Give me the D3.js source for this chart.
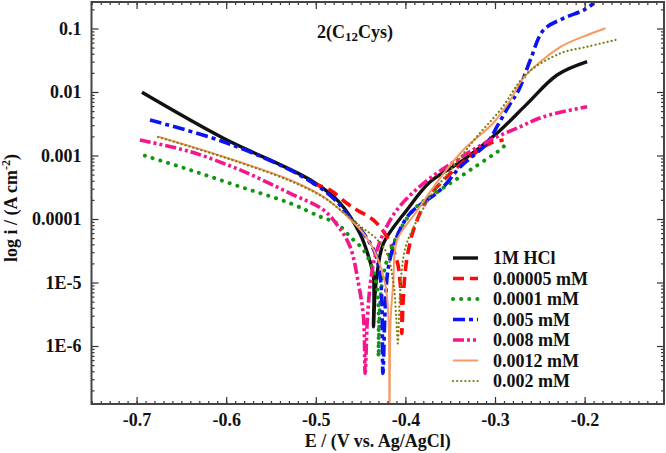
<!DOCTYPE html>
<html><head><meta charset="utf-8">
<script src="https://cdn.jsdelivr.net/npm/d3@7"></script>
<style>
html,body{margin:0;padding:0;background:#fff;}
svg text{font-family:"Liberation Serif","Times New Roman",serif;font-weight:bold;fill:#111;}
</style></head>
<body>
<svg id="c" width="666" height="453"></svg>
<script>
// ---- data: [E (V vs Ag/AgCl), i (A cm^-2)] ----
const hcl = [[-0.694,9.9e-3],[-0.603,1.87e-3],[-0.506,4.11e-4],[-0.4747,1.9e-4],[-0.4505,5.8e-5],[-0.4393,2.1e-5],[-0.4356,1.23e-5],[-0.4356,2.0e-6],
  [-0.434,6.3e-6],[-0.431,1.58e-5],[-0.4245,4.14e-5],[-0.3983,1.39e-4],[-0.3723,3.86e-4],[-0.3351,8.5e-4],[-0.2978,2.24e-3],[-0.2642,6.5e-3],[-0.2307,1.85e-2],[-0.1972,3.0e-2]];
const c00005 = [[-0.504,3.65e-4],[-0.484,2.86e-4],[-0.4654,1.77e-4],[-0.4542,1.39e-4],[-0.4356,9.6e-5],[-0.4207,5.26e-5],[-0.4095,2.26e-5],[-0.4058,9.7e-6],[-0.404,3.7e-6],[-0.404,1.58e-6],
  [-0.4025,5.0e-6],[-0.400,1.58e-5],[-0.396,3.55e-5],[-0.391,6.7e-5],[-0.376,1.99e-4],[-0.3536,4.63e-4],[-0.3276,9.6e-4],[-0.3053,1.56e-3],[-0.2904,1.75e-3]];
const c0001 = [[-0.6907,9.93e-4],[-0.6404,5.92e-4],[-0.5846,3.23e-4],[-0.5287,1.77e-4],[-0.4952,1.09e-4],[-0.4765,8.55e-5],[-0.4617,5.26e-5],[-0.4468,3.25e-5],[-0.4374,1.77e-5],[-0.4318,8.6e-6],[-0.430,3.7e-6],[-0.430,6.8e-7],
  [-0.4285,4.0e-6],[-0.426,1.0e-5],[-0.4226,1.77e-5],[-0.4133,4.14e-5],[-0.391,1.39e-4],[-0.3611,2.86e-4],[-0.3276,5.92e-4],[-0.2904,1.38e-3],[-0.2885,1.56e-3]];
const c005 = [[-0.685,3.62e-3],[-0.6032,1.65e-3],[-0.5287,5.92e-4],[-0.4915,2.86e-4],[-0.4747,1.77e-4],[-0.4692,1.39e-4],[-0.4468,5.96e-5],[-0.4337,2.88e-5],[-0.4282,1.23e-5],[-0.4263,5.3e-6],[-0.4251,3.7e-7],
  [-0.4225,4.0e-6],[-0.4189,1.77e-5],[-0.4095,5.26e-5],[-0.3946,1.23e-4],[-0.3611,2.86e-4],[-0.3388,6.6e-4],[-0.3089,1.56e-3],[-0.2978,2.84e-3],[-0.2829,6.6e-3],[-0.2736,1.07e-2],[-0.2606,3.19e-2],[-0.2457,9.5e-2],[-0.2233,0.145],[-0.201,0.195],[-0.1898,0.249]];
const c008 = [[-0.6963,1.75e-3],[-0.6404,1.15e-3],[-0.5846,5.92e-4],[-0.5287,2.54e-4],[-0.4915,1.39e-4],[-0.4747,7.57e-5],[-0.4617,3.66e-5],[-0.4524,9.7e-6],[-0.4468,2.9e-6],[-0.4449,3.7e-7],
  [-0.4425,2.5e-6],[-0.439,1.0e-5],[-0.434,2.5e-5],[-0.4245,5.96e-5],[-0.4095,1.39e-4],[-0.3798,3.65e-4],[-0.3425,8.5e-4],[-0.3053,1.75e-3],[-0.2717,2.84e-3],[-0.2457,4.08e-3],[-0.1972,5.87e-3]];
const c0012 = [[-0.6758,1.98e-3],[-0.6032,9.6e-4],[-0.5287,4.11e-4],[-0.4915,2.24e-4],[-0.4728,1.39e-4],[-0.4468,5.96e-5],[-0.4318,2.55e-5],[-0.4226,9.7e-6],[-0.4189,2.9e-6],[-0.4178,6.3e-8],
  [-0.4165,2.5e-6],[-0.4135,1.0e-5],[-0.4092,4.67e-5],[-0.3879,1.29e-4],[-0.3611,4.43e-4],[-0.3354,1.22e-3],[-0.3019,3.25e-3],[-0.2829,7.48e-3],[-0.2684,1.66e-2],[-0.227,5.12e-2],[-0.1969,7.9e-2],[-0.1767,0.1007]];
const c002 = [[-0.676,1.95e-3],[-0.603,9.4e-4],[-0.529,4.0e-4],[-0.4915,2.2e-4],[-0.4728,1.4e-4],[-0.45,7.6e-5],[-0.433,5.0e-5],[-0.4207,2.88e-5],[-0.4133,9.7e-6],[-0.4103,2.9e-6],[-0.4084,1.1e-6],
  [-0.4065,5.0e-6],[-0.404,1.58e-5],[-0.40,3.55e-5],[-0.39,7.9e-5],[-0.37,2.5e-4],[-0.345,7.1e-4],[-0.32,2.0e-3],[-0.2941,5.2e-3],[-0.2642,1.97e-2],[-0.227,4.06e-2],[-0.1972,5.16e-2],[-0.1655,6.6e-2]];

const seriesNames = ["1M HCl","0.00005 mM","0.0001 mM","0.005 mM","0.008 mM","0.0012 mM","0.002 mM"];
const seriesData = [hcl, c00005, c0001, c005, c008, c0012, c002];
const xTicks = [-0.7,-0.6,-0.5,-0.4,-0.3,-0.2];
const yTicks = [0.1,0.01,0.001,0.0001,1e-5,1e-6];
const yTickLabels = ["0.1","0.01","0.001","0.0001","1E-5","1E-6"];

// ---- styles ----
const styles = [
  {color:"#111111", width:3.4, dash:null, cap:"butt"},
  {color:"#ff0a0a", width:3.6, dash:"11,6", cap:"butt"},
  {color:"#129612", width:4, dash:"0.1,8", cap:"round"},
  {color:"#0a14f0", width:3.6, dash:"12,4,4,4", cap:"butt"},
  {color:"#f5168c", width:3.6, dash:"11,3,3,3,3,3", cap:"butt"},
  {color:"#f59a62", width:2, dash:null, cap:"butt"},
  {color:"#7e7e10", width:2.2, dash:"0.1,4", cap:"round"}
];

const L=91.5, R=664, T=2, B=404;
const x = d3.scaleLinear().domain([-0.7503,-0.1114]).range([L,R]);
const y = d3.scaleLog().domain([Math.pow(10,-6.913),Math.pow(10,-0.583)]).range([B,T]);

const svg = d3.select("#c");
svg.append("defs").append("clipPath").attr("id","clip")
  .append("rect").attr("x",L).attr("y",T).attr("width",R-L).attr("height",B-T);

const line = d3.line().x(d=>x(d[0])).y(d=>y(d[1])).curve(d3.curveCatmullRom.alpha(0.5));
const g = svg.append("g").attr("clip-path","url(#clip)");
seriesData.forEach((s,i)=>{
  const st=styles[i];
  g.append("path").datum(s).attr("d",line).attr("fill","none")
   .attr("stroke",st.color).attr("stroke-width",st.width)
   .attr("stroke-dasharray",st.dash).attr("stroke-linecap",st.cap).attr("stroke-linejoin","round");
});

// ---- axes (inward ticks, mirrored) ----
const xMinor = d3.range(-75,-11).map(v=>v/100).filter(v=>x(v)>=L && x(v)<=R);
const yMinor = [];
for(let e=-7;e<=0;e++){for(let m=2;m<=9;m++){const v=m*Math.pow(10,e); if(y(v)>=T && y(v)<=B) yMinor.push(v);}}

function styleAxis(sel){sel.select(".domain").remove(); sel.selectAll("line").attr("stroke","#333").attr("stroke-width",1.2);}
svg.append("g").attr("transform",`translate(0,${B})`).call(d3.axisBottom(x).tickValues(xMinor).tickSize(-3).tickFormat("")).call(styleAxis);
svg.append("g").attr("transform",`translate(0,${B})`).call(d3.axisBottom(x).tickValues(xTicks).tickSize(-7).tickFormat(d=>d3.format(".1f")(d).replace("\u2212","-")).tickPadding(9)).call(styleAxis)
  .selectAll("text").style("font-size","18px").attr("fill","#111");
svg.append("g").attr("transform",`translate(0,${T})`).call(d3.axisTop(x).tickValues(xMinor).tickSize(-3).tickFormat("")).call(styleAxis);
svg.append("g").attr("transform",`translate(0,${T})`).call(d3.axisTop(x).tickValues(xTicks).tickSize(-7).tickFormat("")).call(styleAxis);

svg.append("g").attr("transform",`translate(${L},0)`).call(d3.axisLeft(y).tickValues(yMinor).tickSize(-3).tickFormat("")).call(styleAxis);
svg.append("g").attr("transform",`translate(${L},0)`).call(d3.axisLeft(y).tickValues(yTicks).tickSize(-7).tickFormat((d,i)=>yTickLabels[i]).tickPadding(10)).call(styleAxis)
  .selectAll("text").style("font-size","18px").attr("fill","#111");
svg.append("g").attr("transform",`translate(${R},0)`).call(d3.axisRight(y).tickValues(yMinor).tickSize(-3).tickFormat("")).call(styleAxis);
svg.append("g").attr("transform",`translate(${R},0)`).call(d3.axisRight(y).tickValues(yTicks).tickSize(-7).tickFormat("")).call(styleAxis);

// frame
svg.append("rect").attr("x",L).attr("y",T).attr("width",R-L).attr("height",B-T)
  .attr("fill","none").attr("stroke","#444").attr("stroke-width",2);

// titles
svg.append("text").attr("x",(L+R)/2).attr("y",447).attr("text-anchor","middle").style("font-size","18px").text("E / (V vs. Ag/AgCl)");
const yl = svg.append("text").attr("transform","translate(17,208) rotate(-90)").attr("text-anchor","middle").style("font-size","18px");
yl.append("tspan").text("log i / (A cm");
yl.append("tspan").attr("dy",-7).style("font-size","12px").text("-2");
yl.append("tspan").attr("dy",7).text(")");

const tt = svg.append("text").attr("x",355).attr("y",38).attr("text-anchor","middle").style("font-size","18px");
tt.append("tspan").text("2(C");
tt.append("tspan").attr("dy",3).style("font-size","13px").text("12");
tt.append("tspan").attr("dy",-3).text("Cys)");

// legend
const lg = svg.append("g");
seriesNames.forEach((n,i)=>{
  const st=styles[i], yy=258+i*20.5;
  lg.append("line").attr("x1",453).attr("x2",478).attr("y1",yy).attr("y2",yy)
    .attr("stroke",st.color).attr("stroke-width",st.width).attr("stroke-dasharray",st.dash).attr("stroke-linecap",st.cap);
  lg.append("text").attr("x",493).attr("y",yy).attr("dy","0.35em").style("font-size","18px").text(n);
});
</script>
</body></html>
